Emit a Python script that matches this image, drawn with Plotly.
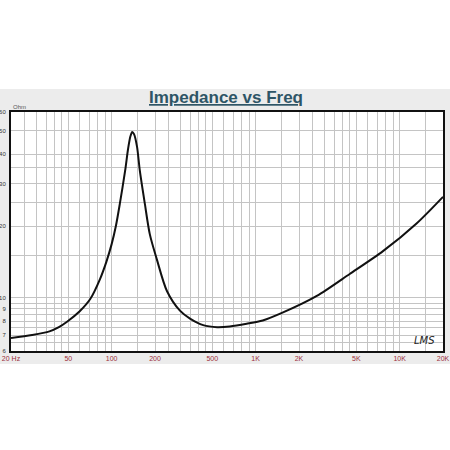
import plotly.graph_objects as go

# Impedance curve
freq_hz = [20, 28, 37, 43, 49, 60, 71, 83, 92, 100, 107, 114, 124, 130, 135, 139, 143,
           150, 157, 170, 184, 206, 242, 298, 350, 432, 540, 660, 866, 1120, 1550,
           2660, 4500, 7660, 13100, 20000]
impedance_ohm = [6.8, 7.0, 7.25, 7.55, 7.95, 8.8, 9.9, 12.0, 14.2, 16.8, 20.0, 24.8, 34, 42,
                 47.5, 49.5, 48.5, 43, 34, 24.8, 18.5, 14.5, 10.7, 8.85, 8.2, 7.7,
                 7.55, 7.6, 7.8, 8.05, 8.7, 10.2, 12.6, 15.7, 20.5, 26.5]

x_tick_vals = [20, 50, 100, 200, 500, 1000, 2000, 5000, 10000, 20000]
x_tick_text = ["20 Hz", "50", "100", "200", "500", "1K", "2K", "5K", "10K", "20K"]
y_tick_vals = [6, 7, 8, 9, 10, 20, 30, 40, 50, 60]
y_tick_text = ["6", "7", "8", "9", "10", "20", "30", "40", "50", "60"]

x_grid_mults = [1, 1.5, 2, 2.5, 3, 3.5, 4, 4.5, 5, 6, 7, 8, 9]
x_grid = sorted({round(m * d, 6) for d in [10, 100, 1000, 10000] for m in x_grid_mults
                 if 20 <= m * d <= 20000})
y_grid = [6, 6.5, 7, 7.5, 8, 8.5, 9, 9.5, 10, 15, 20, 25, 30, 35, 40, 50, 60]

L, R, T, B = 11, 7, 112, 99
W = H = 450
pw = W - L - R
ph = H - T - B

fig = go.Figure()
fig.add_trace(go.Scatter(
    x=freq_hz, y=impedance_ohm, mode="lines",
    line=dict(color="#111111", width=2, shape="spline", smoothing=0.8),
    hoverinfo="skip", showlegend=False,
))

grid_col = "#c4c4c4"
fig.update_xaxes(
    type="log", range=[1.30103, 4.30103], automargin=False,
    tickmode="array", tickvals=x_tick_vals, ticktext=x_tick_text,
    tickfont=dict(size=7, color="#9b2d3a", family="Liberation Sans"),
    showgrid=True, gridcolor=grid_col, gridwidth=1,
    minor=dict(tickmode="array", tickvals=x_grid, showgrid=True,
               gridcolor=grid_col, gridwidth=1),
    showline=True, linecolor="#111111", linewidth=2, mirror=True,
    ticks="", zeroline=False,
)
fig.update_yaxes(
    type="log", range=[0.778151, 1.778151], automargin=False,
    tickmode="array", tickvals=y_tick_vals, ticktext=y_tick_text,
    tickfont=dict(size=6, color="#333333", family="Liberation Sans"),
    showgrid=True, gridcolor=grid_col, gridwidth=1,
    minor=dict(tickmode="array", tickvals=y_grid, showgrid=True,
               gridcolor=grid_col, gridwidth=1),
    showline=True, linecolor="#111111", linewidth=2, mirror=True,
    ticks="", zeroline=False, ticklabelstandoff=2,
)

# grey panel behind the chart, then white plot area
fig.add_shape(type="rect", xref="paper", yref="paper", layer="below",
              x0=-L / pw - 0.01, x1=1 + R / pw + 0.01,
              y0=-(364 - (T + ph)) / ph, y1=1 + (T - 89) / ph,
              fillcolor="#ececec", line=dict(width=0))
fig.add_shape(type="rect", xref="paper", yref="paper", layer="below",
              x0=0, x1=1, y0=0, y1=1, fillcolor="white", line=dict(width=0))

fig.add_annotation(text="<b><u>Impedance vs Freq</u></b>", xref="paper", yref="paper",
                   x=(226 - L) / pw, y=1 + (T - 98) / ph, showarrow=False,
                   font=dict(size=17, color="#2e5566", family="Liberation Sans"),
                   xanchor="center", yanchor="middle")
fig.add_annotation(text="Ohm", xref="paper", yref="paper",
                   x=(19 - L) / pw, y=1 + (T - 107) / ph, showarrow=False,
                   font=dict(size=6, color="#555555", family="Liberation Sans"),
                   xanchor="center", yanchor="middle")
fig.add_annotation(text="<i>LMS</i>", xref="paper", yref="paper",
                   x=(424 - L) / pw, y=(T + ph - 340) / ph, showarrow=False,
                   font=dict(size=10, color="#222222", family="DejaVu Sans"),
                   xanchor="center", yanchor="middle")

fig.update_layout(
    width=W, height=H, margin=dict(l=L, r=R, t=T, b=B, pad=0, autoexpand=False),
    paper_bgcolor="white", plot_bgcolor="white",
    showlegend=False,
)

fig.write_html("out.html", config={"displayModeBar": False},
               post_script="document.body.style.margin='0px';document.body.style.overflow='hidden';")
